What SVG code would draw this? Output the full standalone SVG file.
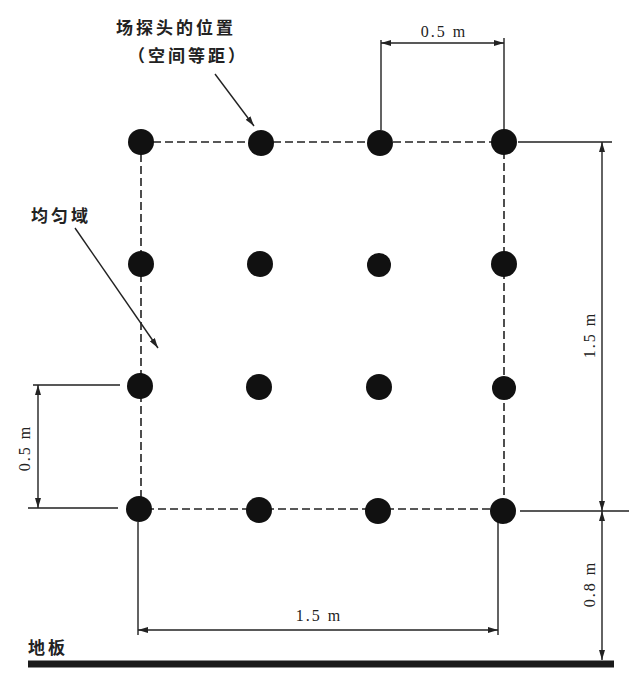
<svg xmlns="http://www.w3.org/2000/svg" width="629" height="675" viewBox="0 0 629 675">
<style>
.dot{fill:#111}
.dash{stroke:#222;stroke-width:1.6;stroke-dasharray:8,4;fill:none}
.ln{stroke:#222;stroke-width:1.4;fill:none}
.t{font-family:"Liberation Serif",serif;font-size:16px;letter-spacing:2px;fill:#222}
.c{font-family:"Noto Sans CJK SC",sans-serif;font-size:17px;font-weight:bold;letter-spacing:3px;fill:#222}
</style>
<defs>
<marker id="a" viewBox="0 0 10 6" refX="10" refY="3" markerWidth="10" markerHeight="6" markerUnits="userSpaceOnUse" orient="auto-start-reverse"><path d="M0,0 L10,3 L0,6 z" fill="#222"/></marker>
</defs>
<rect width="629" height="675" fill="#fff"/>
<g id="connectors">
<path class="dash" d="M141,142 H504 V509 H141 Z"/>
<path class="ln" d="M381,40 V130 M504,38 V130"/>
<path class="ln" d="M381,43 H504" marker-start="url(#a)" marker-end="url(#a)"/>
<path class="ln" d="M518,142 H612 M520,511 H629"/>
<path class="ln" d="M602,142 V511" marker-start="url(#a)" marker-end="url(#a)"/>
<path class="ln" d="M602,511 V660" marker-start="url(#a)" marker-end="url(#a)"/>
<path class="ln" d="M33,385 H120 M28,508 H118"/>
<path class="ln" d="M38,385 V508" marker-start="url(#a)" marker-end="url(#a)"/>
<path class="ln" d="M138,522 V635 M498,522 V635"/>
<path class="ln" d="M138,630 H498" marker-start="url(#a)" marker-end="url(#a)"/>
<path class="ln" d="M215,74 L254,126" marker-end="url(#a)"/>
<path class="ln" d="M75,228 L158,348" marker-end="url(#a)"/>
<line x1="28" y1="664" x2="614" y2="664" stroke="#1a1a1a" stroke-width="7"/>
</g>
<g id="probes">
<circle class="dot" cx="141" cy="142" r="13"/><circle class="dot" cx="261" cy="143" r="13"/><circle class="dot" cx="380" cy="143" r="13"/><circle class="dot" cx="504" cy="142" r="13"/>
<circle class="dot" cx="141" cy="264" r="13"/><circle class="dot" cx="260" cy="264" r="13"/><circle class="dot" cx="379" cy="265" r="12"/><circle class="dot" cx="504" cy="264" r="13"/>
<circle class="dot" cx="140" cy="386" r="13"/><circle class="dot" cx="259" cy="387" r="13"/><circle class="dot" cx="379" cy="387" r="13"/><circle class="dot" cx="504" cy="388" r="12"/>
<circle class="dot" cx="139" cy="509" r="13"/><circle class="dot" cx="259" cy="510" r="13"/><circle class="dot" cx="378" cy="511" r="13"/><circle class="dot" cx="503" cy="511" r="13"/>
</g>
<g id="labels">
<text class="c" x="116" y="34">场探头的位置</text>
<text class="c" x="128" y="62">（空间等距）</text>
<text class="c" x="31" y="222">均匀域</text>
<text class="c" x="28" y="654">地板</text>
<text class="t" x="444" y="37" text-anchor="middle">0.5 m</text>
<text class="t" x="319" y="621" text-anchor="middle">1.5 m</text>
<text class="t" transform="translate(595,335) rotate(-90)" text-anchor="middle">1.5 m</text>
<text class="t" transform="translate(595,584) rotate(-90)" text-anchor="middle">0.8 m</text>
<text class="t" transform="translate(30,448) rotate(-90)" text-anchor="middle">0.5 m</text>
</g>
</svg>
